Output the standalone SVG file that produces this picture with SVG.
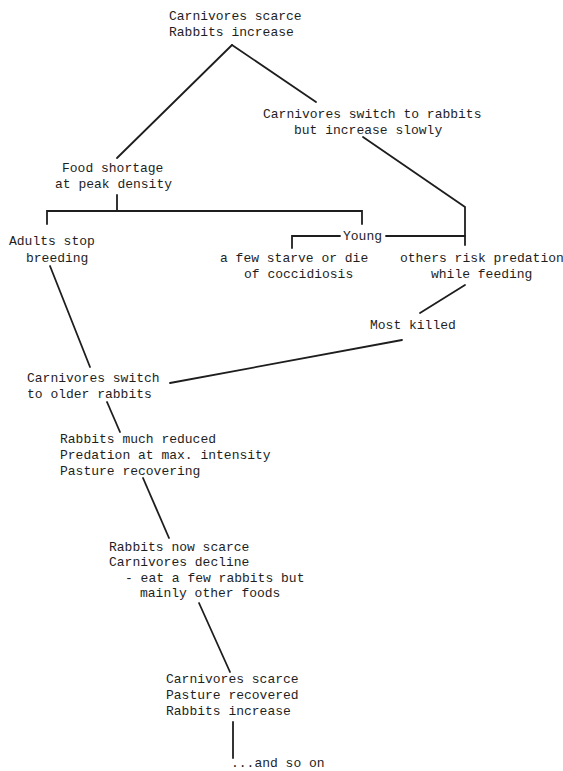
<svg xmlns="http://www.w3.org/2000/svg" width="563" height="771" viewBox="0 0 563 771">
<style>
text{font-family:"Liberation Mono","Courier New",monospace;font-size:13px;fill:#1e1e1e}
.c line,.c polyline{stroke:#1e1e1e;stroke-width:1.8;fill:none;stroke-linecap:round;stroke-linejoin:miter}
</style>
<rect width="563" height="771" fill="#ffffff"/>
<g class="c" id="connectors">
<line x1="232" y1="45" x2="117" y2="158"/>
<line x1="232" y1="45" x2="316" y2="102"/>
<polyline points="363,137 465,207 465,245"/>
<line x1="117" y1="195" x2="117" y2="211"/>
<polyline points="47,224 47,211 362,211 362,224"/>
<polyline points="292,248 292,236 340,236"/>
<line x1="386" y1="236" x2="465" y2="236"/>
<line x1="465" y1="285" x2="420" y2="313"/>
<line x1="402" y1="340" x2="170" y2="383"/>
<line x1="50" y1="266" x2="90" y2="367"/>
<line x1="107" y1="402" x2="120" y2="432"/>
<line x1="143" y1="478" x2="169" y2="538"/>
<line x1="199" y1="603" x2="230" y2="672"/>
<line x1="233" y1="722" x2="233" y2="758"/>
</g>
<g id="n1"><text x="169" y="19.5">Carnivores scarce</text><text x="169" y="35.5">Rabbits increase</text></g>
<g id="n2"><text x="263" y="118">Carnivores switch to rabbits</text><text x="294" y="134">but increase slowly</text></g>
<g id="n3"><text x="62" y="172">Food shortage</text><text x="55" y="188">at peak density</text></g>
<g id="n4"><text x="9" y="245">Adults stop</text><text x="26" y="261.5">breeding</text></g>
<g id="n5"><text x="343" y="240">Young</text></g>
<g id="n6"><text x="220" y="261.5">a few starve or die</text><text x="244" y="278">of coccidiosis</text></g>
<g id="n7"><text x="400" y="261.5">others risk predation</text><text x="431" y="278">while feeding</text></g>
<g id="n8"><text x="370" y="329">Most killed</text></g>
<g id="n9"><text x="27" y="381.5">Carnivores switch</text><text x="27" y="397.5">to older rabbits</text></g>
<g id="n10"><text x="60" y="442.5">Rabbits much reduced</text><text x="60" y="458.5">Predation at max. intensity</text><text x="60" y="474.5">Pasture recovering</text></g>
<g id="n11"><text x="109" y="550.5">Rabbits now scarce</text><text x="109" y="566">Carnivores decline</text><text x="125" y="581.5">- eat a few rabbits but</text><text x="140" y="597">mainly other foods</text></g>
<g id="n12"><text x="166" y="682.5">Carnivores scarce</text><text x="166" y="698.5">Pasture recovered</text><text x="166" y="714.5">Rabbits increase</text></g>
<g id="n13"><text x="231" y="766.5">...and so on</text></g>
</svg>
